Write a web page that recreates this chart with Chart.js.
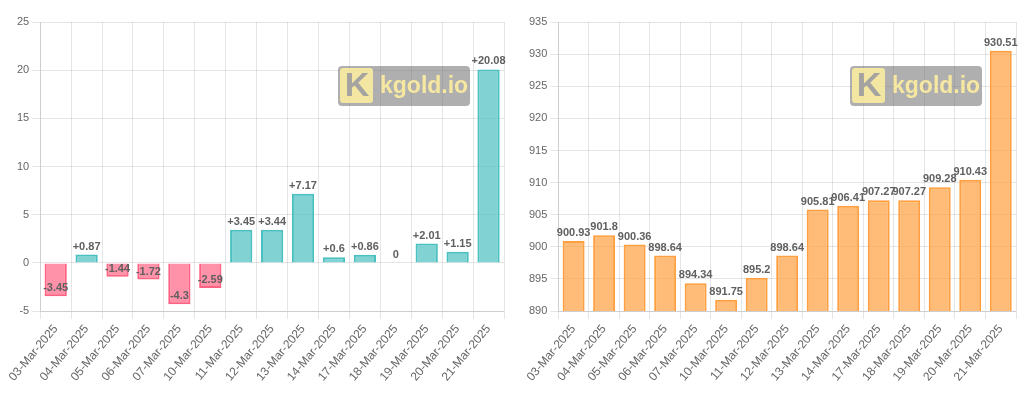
<!DOCTYPE html>
<html>
<head>
<meta charset="utf-8">
<script src="https://cdn.jsdelivr.net/npm/chart.js@4"></script>
<style>
html, body { margin: 0; padding: 0; background: #fff; }
.wrap { display: flex; width: 1024px; height: 398px; }
.box { position: relative; width: 512px; height: 398px; }
</style>
</head>
<body>
<div class="wrap">
  <div class="box"><canvas id="changeChart"></canvas></div>
  <div class="box"><canvas id="priceChart"></canvas></div>
</div>
<script>
const dates = ["03-Mar-2025", "04-Mar-2025", "05-Mar-2025", "06-Mar-2025", "07-Mar-2025",
  "10-Mar-2025", "11-Mar-2025", "12-Mar-2025", "13-Mar-2025", "14-Mar-2025",
  "17-Mar-2025", "18-Mar-2025", "19-Mar-2025", "20-Mar-2025", "21-Mar-2025"];
const changes = [-3.45, 0.87, -1.44, -1.72, -4.3, -2.59, 3.45, 3.44, 7.17, 0.6, 0.86, 0, 2.01, 1.15, 20.08];
const prices = [900.93, 901.8, 900.36, 898.64, 894.34, 891.75, 895.2, 898.64, 905.81, 906.41, 907.27, 907.27, 909.28, 910.43, 930.51];

Chart.defaults.font.family = "Arial, 'Liberation Sans', sans-serif";
Chart.defaults.font.size = 11;
Chart.defaults.color = "#666";

// value labels drawn above bar ends (no datalabels plugin offline)
const valueLabels = {
  id: "valueLabels",
  afterDatasetsDraw(chart, args, opts) {
    const c = chart.ctx;
    const meta = chart.getDatasetMeta(0);
    const data = chart.data.datasets[0].data;
    c.save();
    c.font = "bold 11px Arial, 'Liberation Sans', sans-serif";
    c.fillStyle = "#606060";
    c.textAlign = "center";
    c.textBaseline = "middle";
    meta.data.forEach((bar, i) => {
      c.fillText(opts.format(data[i]), bar.x, bar.y - 8);
    });
    c.restore();
  }
};

// kgold.io watermark
const watermark = {
  id: "watermark",
  afterDraw(chart) {
    const c = chart.ctx;
    const a = chart.chartArea;
    const w = 132, h = 40;
    const x = a.right - 34 - w, y = a.top + 44;
    c.save();
    c.fillStyle = "rgba(110,110,110,0.55)";
    c.beginPath();
    c.roundRect(x, y, w, h, 4);
    c.fill();
    // logo square
    c.fillStyle = "rgba(255,238,160,0.85)";
    c.beginPath();
    c.roundRect(x + 2, y + 2, 33, 35, 3);
    c.fill();
    c.fillStyle = "rgba(160,160,160,0.95)";
    c.font = "bold 34px Arial, 'Liberation Sans', sans-serif";
    c.textAlign = "center";
    c.textBaseline = "middle";
    c.fillText("K", x + 19, y + 21);
    c.fillStyle = "rgba(255,238,160,0.9)";
    c.font = "bold 23px Arial, 'Liberation Sans', sans-serif";
    c.textAlign = "left";
    c.fillText("kgold.io", x + 42, y + 21);
    c.restore();
  }
};

function baseOptions(min, max, format) {
  return {
    responsive: true,
    maintainAspectRatio: false,
    animation: false,
    layout: { padding: { left: 14, right: 8, top: 22, bottom: 11 } },
    plugins: {
      legend: { display: false },
      tooltip: { enabled: false },
      valueLabels: { format: format }
    },
    scales: {
      x: {
        ticks: { maxRotation: 50, minRotation: 50, autoSkip: false, font: { size: 12 } },
        grid: { color: "rgba(0,0,0,0.1)" }
      },
      y: {
        min: min,
        max: max,
        ticks: { stepSize: 5 },
        grid: { color: "rgba(0,0,0,0.1)" }
      }
    }
  };
}

new Chart(document.getElementById("changeChart"), {
  type: "bar",
  data: {
    labels: dates,
    datasets: [{
      data: changes,
      backgroundColor: changes.map(v => v < 0 ? "rgba(255,99,132,0.7)" : "rgba(75,192,192,0.7)"),
      borderColor: changes.map(v => v < 0 ? "rgb(255,99,132)" : "rgb(75,192,192)"),
      borderWidth: 2
    }]
  },
  options: baseOptions(-5, 25, v => v > 0 ? "+" + v : String(v)),
  plugins: [valueLabels, watermark]
});

new Chart(document.getElementById("priceChart"), {
  type: "bar",
  data: {
    labels: dates,
    datasets: [{
      data: prices,
      backgroundColor: "rgba(255,159,64,0.7)",
      borderColor: "rgb(255,159,64)",
      borderWidth: 2
    }]
  },
  options: baseOptions(890, 935, v => String(v)),
  plugins: [valueLabels, watermark]
});
</script>
</body>
</html>
